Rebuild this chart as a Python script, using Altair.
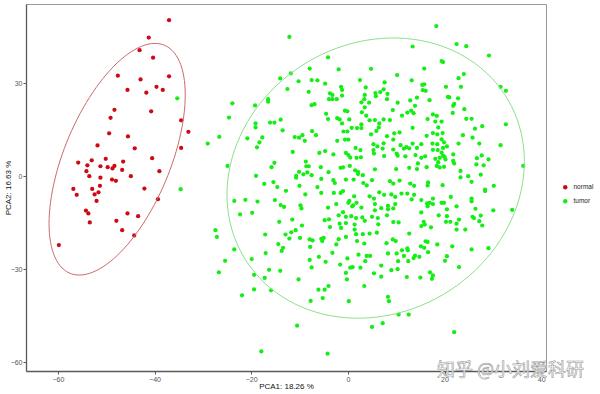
import altair as alt
import numpy as np
import pandas as pd

# ---------------- data ----------------
groups = ["normal", "tumor"]
point_colors = ["#CD0A14", "#14EE14"]
ellipse_colors = ["#CC6A6A", "#8CE08C"]
x_ticks = [-60, -40, -20, 0, 20, 40]
y_ticks = [-60, -30, 0, 30]
x_title = "PCA1: 18.26 %"
y_title = "PCA2: 16.63 %"
watermark = "知乎 @小刘爱科研"

normal_x = [-37.0, -41.2, -43.1, -40.3, -47.6, -42.9, -37.0, -45.6, -41.7, -39.6,
            -38.3, -48.3, -40.7, -49.1, -34.5, -33.0, -49.4, -45.5, -51.8, -44.1,
            -34.5, -40.5, -55.8, -53.0, -50.1, -46.5, -53.9, -51.2, -49.7, -48.3,
            -48.7, -46.7, -54.1, -53.5, -51.2, -44.9, -39.0, -48.8, -48.0, -51.3,
            -56.8, -52.9, -51.6, -42.1, -56.1, -52.4, -52.0, -39.3, -54.2, -53.7,
            -45.6, -43.4, -53.4, -47.9, -46.7, -44.2, -59.8]
normal_y = [50.3, 44.7, 40.6, 38.2, 32.4, 31.2, 32.2, 27.8, 26.9, 28.8,
            27.8, 21.4, 20.9, 18.8, 18.0, 14.3, 13.8, 12.8, 9.9, 9.0,
            9.1, 5.8, 4.4, 5.1, 5.6, 4.7, 3.5, 3.2, 2.9, 3.3,
            2.5, 2.0, 1.6, 0.0, -0.5, 0.0, 1.6, -1.1, -1.5, -3.1,
            -4.1, -4.1, -5.2, -4.0, -6.0, -5.9, -8.0, -7.4, -11.1, -12.0,
            -12.0, -12.9, -14.9, -14.4, -17.4, -19.1, -22.2]

tumor_left_top = [
    (-35.3, 25.1), (-34.6, -4.2),
    (-12.1, 44.9), (-7.9, 34.7), (-11.8, 33.1), (-14.0, 31.5), (-10.2, 30.6), (-7.5, 31.0),
    (-12.5, 28.1), (-8.1, 27.2), (-23.9, 23.5), (-19.2, 22.8), (-16.5, 24.8), (-16.5, 24.0),
    (-7.5, 22.9), (-6.9, 23.2), (-24.6, 18.9), (-16.1, 17.3), (-15.2, 17.3), (-13.9, 18.2),
    (-19.1, 17.0), (-19.1, 15.7), (-13.5, 14.8), (-7.4, 14.5), (-26.6, 12.7), (-29.0, 10.5),
    (-20.8, 12.2), (-17.7, 12.5), (-18.3, 10.9), (-18.8, 9.3), (-11.0, 12.6), (-10.1, 12.4),
    (-9.4, 13.2), (-8.9, 11.4), (-11.4, 7.8), (-24.9, 3.3), (-15.2, 4.3), (-15.8, 2.9),
    (-8.7, 4.7), (-8.6, 3.2), (-8.1, 3.2), (-10.1, 1.4), (-9.2, 0.6), (-8.4, 1.2),
    (-7.5, 0.3), (-10.7, 0.1), (-10.7, -0.5), (-19.0, 0.1), (-17.3, -2.5), (-15.4, -1.9),
    (-14.6, -3.5), (-10.0, -3.1),
]
tumor_left_bottom = [
    (-23.5, -8.0), (-21.2, -7.6), (-18.7, -8.2), (-15.1, -7.7), (-13.9, -9.3), (-13.2, -9.9),
    (-12.8, -4.7), (-8.8, -5.9), (-9.8, -9.4), (-9.6, -10.4), (-22.3, -12.3), (-19.8, -11.8),
    (-14.2, -14.7), (-11.5, -14.0), (-9.5, -15.9), (-27.4, -17.4), (-27.1, -19.6), (-17.1, -18.8),
    (-12.9, -18.8), (-11.7, -18.1), (-10.8, -17.4), (-12.1, -20.1), (-9.9, -19.9), (-7.9, -20.4),
    (-7.3, -20.7), (-14.4, -21.9), (-13.4, -23.1), (-13.7, -24.1), (-7.8, -22.8), (-23.5, -23.6),
    (-17.0, -24.8), (-25.4, -27.3), (-19.9, -26.7), (-7.9, -27.0), (-7.5, -29.4), (-26.7, -31.0),
    (-16.3, -30.2), (-14.0, -30.5), (-19.4, -31.8), (-17.2, -32.8), (-10.2, -33.3), (-19.4, -36.5),
    (-15.9, -36.8), (-21.9, -38.4), (-7.7, -40.2), (-10.5, -48.2), (-17.9, -56.5),
]
tumor_mid_top = [
    (13.4, 41.8), (-4.1, 38.3), (-1.9, 34.4), (4.8, 34.6), (10.2, 32.6), (-6.3, 30.9),
    (-4.7, 29.8), (2.5, 31.0), (7.6, 30.2), (13.2, 30.9), (15.4, 29.4), (-1.4, 28.8),
    (-1.2, 27.8), (3.7, 28.6), (-3.7, 26.7), (-3.2, 26.2), (-3.9, 24.8), (-3.2, 24.8),
    (-2.3, 24.8), (-1.2, 26.0), (3.5, 26.2), (3.4, 24.8), (5.7, 26.8), (6.7, 27.1),
    (5.8, 25.8), (7.4, 28.0), (8.2, 26.5), (8.1, 24.8), (10.3, 23.7), (4.4, 23.7),
    (2.8, 23.8), (3.5, 22.2), (9.3, 21.3), (12.9, 24.4), (13.9, 22.7), (13.1, 21.1),
    (12.3, 20.5), (13.6, 20.3), (14.3, 25.3), (15.5, 27.7), (2.9, 20.6), (3.8, 19.5),
    (-4.5, 20.1), (-4.1, 18.4), (-2.2, 18.7), (-1.7, 18.3), (-0.6, 21.1), (-0.1, 20.9),
    (0.3, 18.3), (-1.2, 17.0), (4.5, 18.0), (5.6, 18.1), (7.4, 18.3), (8.7, 18.1),
    (11.2, 19.5), (2.8, 16.7), (6.5, 17.0), (6.4, 15.7), (0.8, 15.6), (1.9, 15.5),
    (2.8, 15.5), (-0.9, 14.4), (-0.1, 14.4), (4.8, 13.5), (5.9, 14.6), (9.6, 13.8),
    (10.7, 14.1), (13.4, 15.6), (8.1, 12.9), (9.4, 11.8), (-0.6, 11.8), (0.1, 11.8),
    (-2.2, 11.4), (-6.6, 13.2), (5.3, 10.3), (6.1, 9.6), (7.4, 10.6), (7.2, 8.9),
    (10.9, 10.0), (11.6, 8.9), (12.1, 9.4), (12.7, 9.0), (13.4, 10.5), (14.3, 9.1),
    (15.2, 10.3), (1.6, 9.1), (2.6, 8.4), (5.3, 8.4), (9.4, 8.6), (-5.9, 7.5),
    (-4.7, 8.1), (-3.0, 7.0), (-0.4, 7.5), (0.1, 6.8), (0.5, 6.0), (1.8, 5.9),
    (2.7, 6.1), (5.4, 7.3), (7.5, 6.5), (10.3, 6.6), (10.1, 7.3), (11.9, 6.4),
    (14.0, 6.8), (15.2, 5.9), (-5.6, 2.9), (-1.5, 2.7), (-1.0, 2.8), (0.4, 3.3),
    (1.5, 1.9), (2.1, 0.7), (2.1, 1.4), (3.1, 0.3), (5.6, 2.2), (10.0, 2.3),
    (12.7, 2.7), (14.5, 4.1), (14.3, 2.3), (-4.0, 1.3), (-5.5, -0.9), (-3.0, -1.3),
    (-2.7, -2.2), (-0.4, -1.1), (1.2, -1.1), (3.2, -2.2), (3.9, -3.0), (5.0, -1.3),
    (8.7, -1.6), (9.4, -2.4), (10.7, -1.4), (12.9, -2.4), (13.7, -3.1), (-6.3, -3.5),
]
tumor_mid_bottom = [
    (-5.5, -5.4), (-2.9, -5.4), (-1.5, -5.4), (-1.0, -4.8), (1.3, -6.5), (0.3, -8.0),
    (0.1, -8.6), (1.8, -8.6), (4.5, -6.5), (5.4, -7.2), (6.5, -5.2), (7.5, -6.0),
    (9.0, -5.9), (9.8, -6.7), (11.1, -5.6), (12.3, -5.6), (13.2, -7.5), (13.7, -6.0),
    (15.2, -7.7), (-4.1, -10.1), (-2.4, -9.0), (-1.0, -11.6), (0.9, -9.7), (1.1, -9.4),
    (2.8, -10.1), (5.6, -9.0), (5.6, -11.0), (6.9, -10.3), (8.3, -9.6), (8.3, -10.7),
    (8.1, -12.6), (9.8, -9.0), (9.4, -10.4), (-1.9, -12.6), (-0.4, -13.1), (0.7, -12.9),
    (1.7, -13.5), (3.0, -13.3), (5.0, -13.1), (6.2, -13.5), (-4.8, -14.2), (-3.9, -13.9),
    (-1.7, -15.3), (-0.4, -15.1), (1.4, -15.6), (3.5, -14.4), (9.4, -14.8), (10.5, -14.9),
    (6.3, -15.5), (-3.7, -16.4), (-1.4, -16.7), (1.4, -17.2), (15.2, -11.7), (15.2, -16.1),
    (1.7, -18.7), (3.1, -18.7), (4.5, -18.5), (6.0, -18.2), (12.7, -18.5), (-5.5, -20.2),
    (-5.0, -19.9), (-5.3, -20.9), (-1.9, -20.3), (-0.4, -19.6), (1.9, -20.9), (-2.4, -22.0),
    (3.4, -21.7), (8.0, -21.6), (9.3, -20.4), (9.9, -20.9), (15.1, -22.6), (11.2, -23.9),
    (12.3, -23.3), (12.4, -23.9), (-3.2, -24.7), (2.2, -25.3), (3.9, -25.7), (4.6, -25.7),
    (8.3, -24.9), (10.1, -24.9), (11.6, -25.7), (13.9, -25.6), (13.6, -26.4), (14.8, -26.0),
    (-6.0, -26.0), (-4.6, -27.6), (-0.1, -26.5), (3.6, -27.4), (10.4, -27.4), (12.5, -27.4),
    (-1.6, -28.5), (0.5, -29.5), (1.0, -29.3), (2.6, -29.5), (6.9, -28.8), (9.0, -30.3),
    (10.3, -30.0), (-0.4, -31.2), (5.4, -31.3), (-0.2, -33.3), (6.9, -32.4), (12.2, -32.5),
    (15.0, -32.7), (-4.0, -35.4), (-6.1, -36.6), (-4.8, -36.6), (3.4, -35.4), (-5.2, -39.3),
    (0.2, -40.3), (8.3, -38.9), (8.5, -40.3), (10.5, -44.6), (12.6, -44.6), (5.0, -48.6),
    (7.2, -47.4), (-4.2, -57.2),
]
tumor_right_top = [
    (18.3, 48.4), (22.5, 42.6), (24.5, 41.9), (29.2, 38.9), (19.4, 37.1), (19.7, 36.8),
    (15.8, 34.7), (24.0, 32.9), (22.9, 31.6), (31.6, 28.8), (32.7, 27.5), (15.8, 29.6),
    (16.1, 27.5), (20.3, 28.8), (23.4, 28.8), (20.7, 25.6), (21.0, 25.4), (22.8, 25.1),
    (16.9, 24.5), (22.0, 23.3), (21.8, 22.7), (24.1, 21.6), (21.7, 20.4), (17.6, 19.9),
    (18.4, 19.4), (16.5, 18.4), (18.1, 17.6), (19.4, 17.6), (24.5, 18.5), (25.6, 18.5),
    (32.7, 16.7), (18.7, 15.7), (26.3, 15.3), (27.8, 16.1), (17.6, 13.9), (18.5, 13.5),
    (19.6, 13.9), (16.3, 13.0), (23.8, 13.2), (25.8, 12.4), (19.4, 11.9), (17.5, 10.5),
    (18.5, 10.3), (19.9, 10.9), (22.9, 10.5), (27.2, 10.5), (31.6, 10.0), (20.5, 9.6),
    (17.6, 8.5), (18.6, 8.4), (19.7, 9.1), (19.4, 7.6), (21.8, 7.0), (16.0, 6.4),
    (19.7, 6.6), (20.0, 6.2), (18.1, 5.6), (19.0, 5.9), (20.2, 5.4), (18.7, 4.5),
    (21.8, 4.9), (22.0, 4.1), (26.7, 5.8), (27.7, 6.7), (29.1, 5.4), (18.4, 3.3),
    (19.0, 2.8), (19.9, 3.0), (16.3, 2.9), (26.6, 3.8), (28.1, 3.5), (36.3, 3.3),
    (23.3, 1.7), (24.9, 0.0), (23.3, -0.4), (27.5, 0.5), (25.6, -1.8), (16.6, -2.0),
    (16.5, -3.0), (19.6, -2.9), (30.2, -3.1), (28.4, -4.3),
]
tumor_right_bottom = [
    (28.4, -4.8), (17.6, -7.2), (16.4, -8.8), (16.9, -8.6), (16.5, -9.7), (17.6, -9.0),
    (19.4, -8.6), (19.9, -8.6), (21.3, -6.7), (25.6, -7.2), (25.6, -8.1), (22.5, -9.7),
    (26.4, -10.5), (30.1, -11.0), (34.0, -10.9), (20.5, -10.7), (18.8, -12.6), (20.5, -12.9),
    (25.8, -13.1), (26.1, -13.5), (27.5, -12.7), (23.0, -14.0), (20.3, -14.7), (21.2, -14.7),
    (22.5, -15.3), (27.2, -14.5), (15.7, -14.7), (15.9, -15.6), (27.8, -15.9), (17.2, -16.5),
    (22.5, -17.2), (24.3, -17.2), (16.1, -21.0), (16.5, -21.2), (18.5, -22.0), (21.6, -22.6),
    (15.8, -23.1), (25.6, -23.6), (29.1, -23.2), (16.6, -24.5), (20.5, -25.8), (20.1, -27.3),
    (23.0, -29.3), (17.0, -31.0), (17.6, -32.0), (17.4, -33.1), (22.0, -50.3),
]

# ---------------- tables ----------------
tumor_pts = (tumor_left_top + tumor_left_bottom + tumor_mid_top + tumor_mid_bottom
             + tumor_right_top + tumor_right_bottom)
pts = pd.DataFrame({
    "x": normal_x + [p[0] for p in tumor_pts],
    "y": normal_y + [p[1] for p in tumor_pts],
    "group": ["normal"] * len(normal_x) + ["tumor"] * len(tumor_pts),
})


def cov_trob(xy, nu=5, maxit=25, tol=0.01):
    """Multivariate-t robust covariance (as MASS::cov.trob)."""
    n, p = xy.shape
    loc = xy.mean(axis=0)
    w = np.ones(n)
    for _ in range(maxit):
        w0 = w
        X = xy - loc
        _, d, vt = np.linalg.svd(np.sqrt(w / w.sum())[:, None] * X, full_matrices=False)
        wX = X @ vt.T @ np.diag(1.0 / d)
        Q = (wX ** 2).sum(axis=1)
        w = (nu + p) / (nu + Q)
        loc = (w[:, None] * xy).sum(axis=0) / w.sum()
        if np.all(np.abs(w - w0) < tol):
            break
    X = xy - loc
    cov = (np.sqrt(w)[:, None] * X).T @ (np.sqrt(w)[:, None] * X) / n
    return loc, cov


def stat_ellipse(df, level=0.95, segments=120):
    """95% t-based ellipse, as ggplot2's stat_ellipse draws it."""
    xy = df[["x", "y"]].to_numpy()
    n = len(xy)
    center, shape = cov_trob(xy)
    d2 = n - 1
    fq = d2 / 2.0 * ((1 - level) ** (-2.0 / d2) - 1)  # qf(level, 2, n-1)
    radius = np.sqrt(2 * fq)
    t = np.linspace(0, 2 * np.pi, segments + 1)
    circle = np.column_stack([np.cos(t), np.sin(t)])
    chol = np.linalg.cholesky(shape).T
    return center + radius * circle @ chol


ell_frames = []
for g in groups:
    e = stat_ellipse(pts[pts.group == g])
    ell_frames.append(pd.DataFrame({"x": e[:, 0], "y": e[:, 1], "group": g,
                                    "i": np.arange(len(e))}))
ell = pd.concat(ell_frames, ignore_index=True)

# ---------------- chart ----------------
x_scale = alt.Scale(domain=[-66.6, 41.0], nice=False, zero=False)
y_scale = alt.Scale(domain=[-62.8, 55.5], nice=False, zero=False)

x_enc = alt.X("x:Q", scale=x_scale,
              axis=alt.Axis(values=x_ticks, title=x_title, titleX=260, titleY=15,
                            titleBaseline="middle", labelPadding=1))
y_enc = alt.Y("y:Q", scale=y_scale,
              axis=alt.Axis(values=y_ticks, title=y_title, titleX=-18, titleY=183.5,
                            titleBaseline="middle", titleAngle=-90, labelPadding=1))

points = alt.Chart(pts).mark_circle(size=18, opacity=1).encode(
    x=x_enc,
    y=y_enc,
    color=alt.Color("group:N", scale=alt.Scale(domain=groups, range=point_colors),
                    legend=alt.Legend(title=None, orient="none", legendX=536, legendY=180,
                                      labelFontSize=6.5, labelFont="Liberation Sans",
                                      labelColor="#222", symbolSize=20, symbolType="circle",
                                      rowPadding=7, labelOffset=5, padding=0,
                                      symbolStrokeWidth=0)),
)

ellipses = alt.Chart(ell).mark_line(strokeWidth=1, interpolate="linear").encode(
    x="x:Q",
    y="y:Q",
    detail="group:N",
    order="i:Q",
    stroke=alt.Stroke("group:N", scale=alt.Scale(domain=groups, range=ellipse_colors),
                      legend=None),
)

wm = alt.Chart(pd.DataFrame({"t": [watermark]})).mark_text(
    align="left", baseline="middle", fontSize=18, font="Noto Sans CJK SC",
    fill="#ffffff", stroke="#9a9a9a", strokeWidth=0.6,
).encode(text="t:N", x=alt.value(411), y=alt.value(367))

chart = alt.layer(points, ellipses, wm).properties(
    width=520, height=367,
    padding={"left": 26, "top": 4, "right": 54, "bottom": 23},
    autosize=alt.AutoSizeParams(type="none"),
    background="white",
).configure_view(
    stroke="#999999", strokeWidth=1,
).configure_axis(
    grid=False, domainColor="#5a5a5a", domainWidth=1.3, tickColor="#5a5a5a",
    tickSize=3, labelColor="#555555", labelFontSize=7, labelFont="Liberation Sans",
    titleFont="Liberation Sans", titleFontSize=8, titleFontWeight="normal",
    titleColor="#111111",
)

chart.save("out.html", embed_options={"renderer": "svg", "actions": False})
